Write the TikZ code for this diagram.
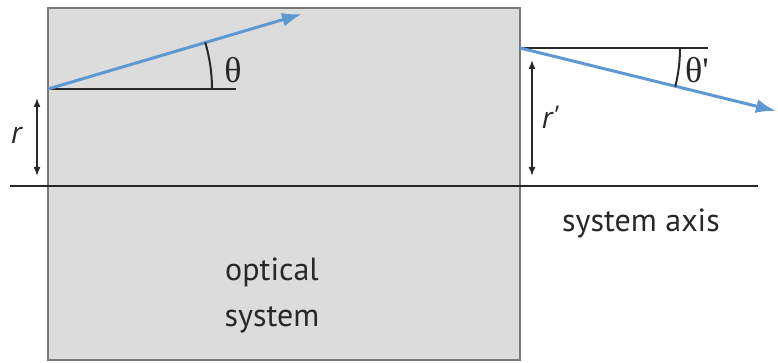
\documentclass[tikz,border=0pt]{standalone}
\usepackage{fontspec}
\setmainfont{PT Sans}
\newfontfamily\thetafont{Liberation Serif}
\usetikzlibrary{arrows.meta}

\definecolor{boxgray}{RGB}{220,220,220}
\definecolor{edgegray}{RGB}{120,120,120}
\definecolor{rayblue}{RGB}{94,152,210}
\definecolor{linedark}{RGB}{40,40,40}

\begin{document}
\begin{tikzpicture}[x=1pt,y=1pt,
		label/.style={font=\fontsize{32}{38}\selectfont, text=linedark, inner sep=0pt},
		ray/.style={draw=rayblue, line width=3pt, -{Latex[length=20pt,width=14pt]}},
		refline/.style={draw=linedark, line width=2pt},
		height/.style={draw=linedark, line width=1.5pt, {Latex[length=9pt,width=7pt]}-{Latex[length=9pt,width=7pt]}}]
		\useasboundingbox (0,0) rectangle (778,363);

		\draw[fill=boxgray, draw=edgegray, line width=1.5pt] (48,3) rectangle (520,355);

		\coordinate(inL) at (48,274);
		\coordinate(inT) at (302,349);
		\coordinate(refL) at (236,274);
		\coordinate(outR) at (520,315);
		\coordinate(outT) at (776,252);
		\coordinate(refR) at (708,315);
		\coordinate(axL) at (10,177);
		\coordinate(axR) at (758,177);
		\coordinate(rTop) at (37,265);
		\coordinate(rBot) at (37,187);
		\coordinate(rpTop) at (532,303);
		\coordinate(rpBot) at (532,187);

		\node(theta)[label] at (233,293){\thetafont\fontsize{36}{40}\selectfont θ};
		\node(thetap)[label] at (697,293){\thetafont\fontsize{36}{40}\selectfont θ\textquotesingle};
		\node(r)[label] at (16,228){\itshape r};
		\node(rp)[label] at (550,246){\itshape r\textquotesingle};
		\node(axis)[label] at (641,140){system axis};
		\node(optical)[label] at (272,91){optical};
		\node(system)[label] at (272,43){system};

		\draw[refline] (inL) -- (refL);
		\draw[refline] (outR) -- (refR);
		\draw[refline] (axL) -- (axR);
		\draw[ray] (inL) -- (inT);
		\draw[ray] (outR) -- (outT);
		\draw[refline] (inL) ++(164,0) arc[start angle=0, end angle=16.5, radius=164];
		\draw[refline] (outR) ++(160,0) arc[start angle=0, end angle=-14, radius=160];
		\draw[height] (rTop) -- (rBot);
		\draw[height] (rpTop) -- (rpBot);
	\end{tikzpicture}
\end{document}
